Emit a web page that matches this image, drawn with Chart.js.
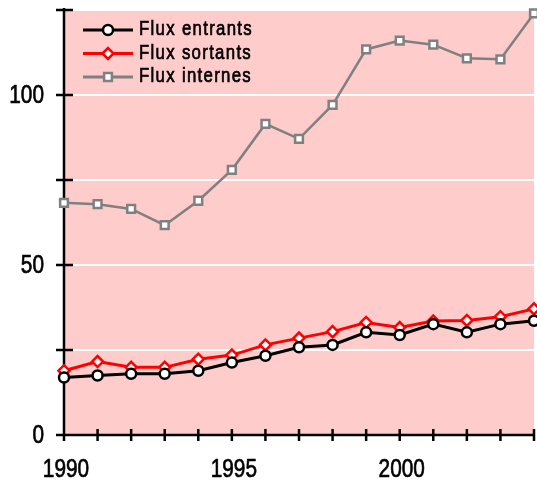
<!DOCTYPE html>
<html>
<head>
<meta charset="utf-8">
<script src="https://cdn.jsdelivr.net/npm/chart.js@4/dist/chart.umd.min.js"></script>
<style>
  html, body { margin: 0; padding: 0; background: #fff; }
  #wrap { width: 537px; height: 481px; }
</style>
</head>
<body>
<div id="wrap"><canvas id="chart"></canvas></div>
<script>
const years = [1990, 1991, 1992, 1993, 1994, 1995, 1996, 1997, 1998, 1999, 2000, 2001, 2002, 2003, 2004];
const fluxEntrants = [16.9, 17.5, 18.0, 18.0, 18.9, 21.3, 23.3, 25.8, 26.5, 30.2, 29.4, 32.6, 30.2, 32.6, 33.6];
const fluxSortants = [18.9, 21.6, 19.9, 19.9, 22.3, 23.5, 26.5, 28.5, 30.4, 33.1, 31.6, 33.5, 33.7, 34.8, 37.1];
const fluxInternes = [68.3, 67.9, 66.5, 61.7, 68.9, 78.0, 91.5, 87.1, 97.1, 113.4, 116.0, 114.8, 110.8, 110.5, 124.0];
const yLabels = [0, 50, 100];
const xLabels = [1990, 1995, 2000];

const FONT = "'Liberation Sans', Arial, sans-serif";

const series = [
  { label: "Flux entrants", data: fluxEntrants, color: "#000000", style: "circle", radius: 5 },
  { label: "Flux sortants", data: fluxSortants, color: "#ff0000", style: "rectRot", radius: 5.5 },
  { label: "Flux internes", data: fluxInternes, color: "#808080", style: "rect", radius: 5.5 }
];

// condensed-looking text: squeeze a regular face horizontally, thicken a bit
function narrowText(ctx, text, x, y, align, size, sx, spacing) {
  ctx.save();
  ctx.translate(x, y);
  ctx.scale(sx, 1);
  ctx.font = size + "px " + FONT;
  ctx.textAlign = align;
  ctx.textBaseline = "alphabetic";
  ctx.letterSpacing = (spacing / sx) + "px";
  ctx.fillStyle = "#000";
  ctx.strokeStyle = "#000";
  ctx.lineWidth = 0.7;
  ctx.fillText(text, 0, 0);
  ctx.strokeText(text, 0, 0);
  ctx.restore();
}

// pink plot background
const background = {
  id: "background",
  beforeDraw(chart) {
    const { ctx, chartArea: a } = chart;
    ctx.save();
    ctx.fillStyle = "#ffcccc";
    ctx.fillRect(a.left, a.top, a.right - a.left, a.bottom - a.top);
    ctx.restore();
  }
};

// black axes with ticks crossing the axis line, plus tick labels
const axes = {
  id: "axes",
  beforeDatasetsDraw(chart) {
    const { ctx, chartArea: a } = chart;
    const x = chart.scales.x, y = chart.scales.y;
    ctx.save();
    ctx.strokeStyle = "#000";
    ctx.lineWidth = 2.5;
    ctx.beginPath();
    ctx.moveTo(a.left, y.getPixelForValue(125) - 2);
    ctx.lineTo(a.left, a.bottom + 3);
    ctx.moveTo(a.left - 7, a.bottom);
    ctx.lineTo(a.right + 1, a.bottom);
    for (let v = 0; v <= 125; v += 25) {
      const py = y.getPixelForValue(v);
      ctx.moveTo(a.left - 8, py);
      ctx.lineTo(a.left + 9, py);
    }
    years.forEach((yr, i) => {
      const px = x.getPixelForValue(i);
      ctx.moveTo(px, a.bottom - 6);
      ctx.lineTo(px, a.bottom + 6);
    });
    ctx.stroke();
    ctx.restore();

    yLabels.forEach(v => {
      narrowText(ctx, String(v), a.left - 20, y.getPixelForValue(v) + 7.5, "right", 26, 0.8, 0);
    });
    years.forEach((yr, i) => {
      if (xLabels.includes(yr)) {
        narrowText(ctx, String(yr), x.getPixelForValue(i) + 2, 477, "center", 26, 0.8, 0);
      }
    });
  }
};

// legend drawn inside the plot, top left
const insideLegend = {
  id: "insideLegend",
  afterDraw(chart) {
    const { ctx } = chart;
    series.forEach((s, i) => {
      const ly = 30 + i * 23.5;
      ctx.save();
      ctx.strokeStyle = s.color;
      ctx.lineWidth = 3;
      ctx.beginPath();
      ctx.moveTo(83, ly);
      ctx.lineTo(133, ly);
      ctx.stroke();
      ctx.fillStyle = "#fff";
      ctx.lineWidth = 2.5;
      Chart.helpers.drawPoint(ctx, { pointStyle: s.style, radius: s.radius, rotation: 0, borderWidth: 2.5 }, 108, ly);
      ctx.restore();
      narrowText(ctx, s.label, 139, ly + 5, "left", 21, 0.8, 1.3);
    });
  }
};

new Chart(document.getElementById("chart"), {
  type: "line",
  data: {
    labels: years,
    datasets: series.map(s => ({
      label: s.label,
      data: s.data,
      borderColor: s.color,
      backgroundColor: "#ffffff",
      borderWidth: s.style === "rect" ? 2.5 : 3,
      pointStyle: s.style,
      pointRadius: s.radius,
      pointBorderWidth: 2.5,
      pointBackgroundColor: "#ffffff",
      pointBorderColor: s.color,
      tension: 0,
      clip: false
    }))
  },
  options: {
    responsive: true,
    maintainAspectRatio: false,
    animation: false,
    layout: { autoPadding: false, padding: { top: 10, right: 3, left: 0, bottom: 0 } },
    plugins: { legend: { display: false }, tooltip: { enabled: false } },
    scales: {
      x: {
        type: "category",
        offset: false,
        afterFit(scale) {
          scale.height = 46;
          scale.paddingLeft = 0; scale.paddingRight = 0;
        },
        grid: { display: false, drawTicks: false },
        border: { display: false },
        ticks: { display: false, autoSkip: false }
      },
      y: {
        min: 0,
        max: 125,
        afterFit(scale) {
          scale.width = 64;
          scale.paddingTop = 0; scale.paddingBottom = 0;
        },
        grid: { color: "#ffffff", lineWidth: 2, drawTicks: false },
        border: { display: false },
        ticks: { display: false, stepSize: 25 }
      }
    }
  },
  plugins: [background, axes, insideLegend]
});
</script>
</body>
</html>
